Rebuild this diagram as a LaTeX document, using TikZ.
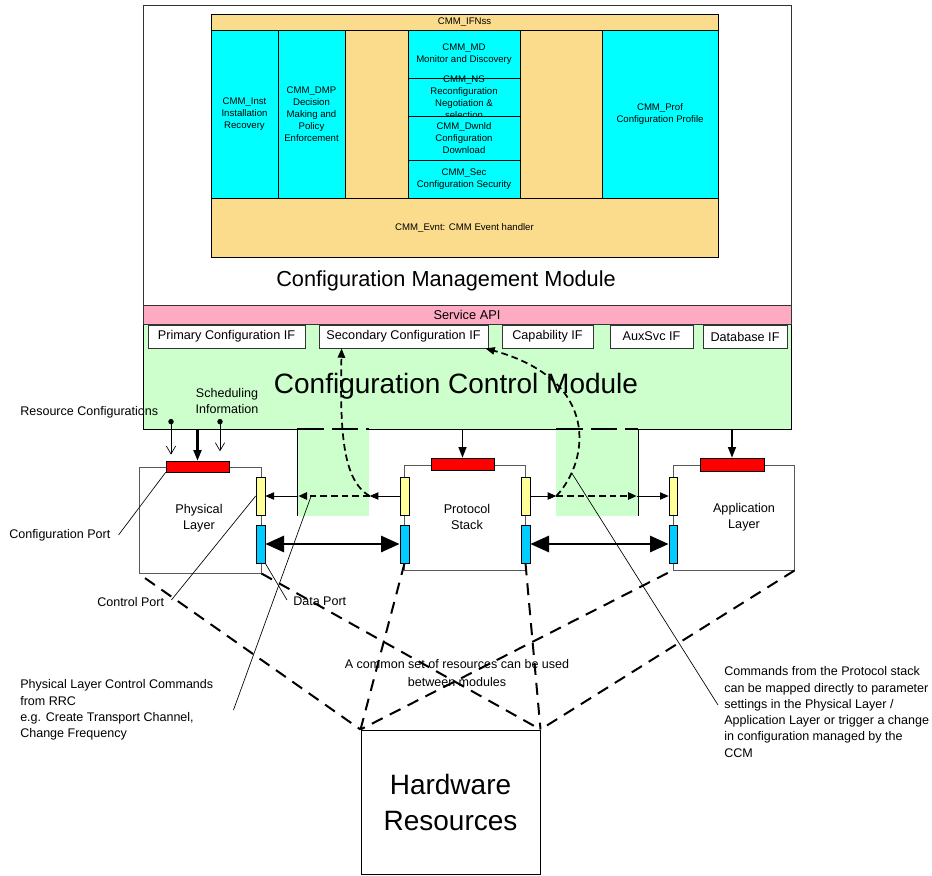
\documentclass[tikz,border=0pt]{standalone}
\usepackage{fontspec}
\setmainfont{Liberation Sans}
\usepackage{tikz}
\usetikzlibrary{fit,calc,positioning,arrows.meta}
\definecolor{cmmtan}{RGB}{250,220,140}
\definecolor{cmmcyan}{RGB}{0,255,255}
\definecolor{apipink}{RGB}{255,170,195}
\definecolor{ccmgreen}{RGB}{204,255,204}
\definecolor{portred}{RGB}{255,0,0}
\definecolor{portyellow}{RGB}{255,255,153}
\definecolor{portblue}{RGB}{0,204,255}
\tikzset{
cmmcol/.style={draw=black, line width=0.6pt, fill=cmmcyan, inner sep=0pt}, % cyan column of the CMM
cmmpad/.style={cmmcol, fill=cmmtan},
cmmtxt/.style={label={[align=center, font=\fontsize{7.2}{9}\selectfont]center:{#1}}},
ifbox/.style={draw=black!80, line width=0.6pt, fill=white, inner sep=0pt},
iftxt/.style={label={[font=\fontsize{9.5}{11}\selectfont]center:{#1}}},
modbox/.style={draw=black!65, line width=0.75pt, inner sep=0pt},
portbox/.style={draw=black, line width=0.5pt, inner sep=0pt},
modtext/.style={align=center, font=\fontsize{9.5}{12}\selectfont},
annot/.style={inner sep=0pt, align=left, font=\fontsize{9.4}{12.2}\selectfont},
leader/.style={line width=0.5pt},
}
\tikzset{
ctlarrow/.style={line width=0.6pt, -{Triangle[length=6.5pt,width=5.5pt]}},
dashctl/.style={line width=1.3pt, dash pattern=on 5pt off 3pt},
datarrow/.style={line width=2.2pt, {Triangle[length=14pt,width=12pt]}-{Triangle[length=14pt,width=12pt]}},
cfgarrow/.style={line width=1.1pt, -{Triangle[length=8pt,width=6pt]}},
inarrow/.style={line width=0.5pt, {Circle[length=4pt]}-{Straight Barb[length=6pt,width=7pt]}},
hwlink/.style={line width=1.5pt, dash pattern=on 9pt off 6pt},
gapline/.style={line width=2pt, dash pattern=on 20pt off 6pt},
}

\begin{document}
\begin{tikzpicture}[x=0.75pt,y=0.75pt,yscale=-1,xscale=1]
\useasboundingbox (0,0) rectangle (932,875);
%Configuration Management Module
\node[draw=black!80, line width=0.6pt, inner sep=0pt, fit={(143,5) (791,305)}] (cmm) {};
\node[cmmpad, fit={(211,14) (718,257)}] (core) {};
\node[cmmpad, fit={(211,14) (718,30)}, cmmtxt={CMM\_IFNss}] (ifnss) {};
\node[cmmcol, fit={(211,30) (278,198)}, cmmtxt={CMM\_Inst\\Installation\\Recovery}] (inst) {};
\node[cmmcol, fit={(278,30) (345,198)}, cmmtxt={CMM\_DMP\\Decision\\Making and\\Policy\\Enforcement}] (dmp) {};
\node[cmmcol, fit={(408,30) (520,78)}, cmmtxt={CMM\_MD\\Monitor and Discovery}] (md) {};
\node[cmmcol, fit={(408,78) (520,116)}, cmmtxt={CMM\_NS\\Reconfiguration\\Negotiation \&\\selection}] (ns) {};
\node[cmmcol, fit={(408,116) (520,160)}, cmmtxt={CMM\_Dwnld\\Configuration\\Download}] (dwnld) {};
\node[cmmcol, fit={(408,160) (520,198)}, cmmtxt={CMM\_Sec\\Configuration Security}] (sec) {};
\node[cmmcol, fit={(602,30) (718,198)}, cmmtxt={CMM\_Prof\\Configuration Profile}] (prof) {};
\node[cmmpad, fit={(211,198) (718,257)}, cmmtxt={CMM\_Evnt: CMM Event handler}] (evnt) {};
\node[font=\fontsize{16.3}{20}\selectfont] (cmmtitle) at (446,281) {Configuration Management Module};
%Configuration Control Module
\fill[ccmgreen] (143,324) -- (791,324) -- (791,429) -- (638,429) -- (638,516) -- (556,516) -- (556,429) -- (369,429) -- (369,516) -- (297,516) -- (297,429) -- (143,429) -- cycle;
\draw[line width=0.6pt] (143,324) -- (143,429) -- (297,429) -- (297,516);
\draw[line width=0.6pt] (369,429) -- (556,429);
\draw[line width=0.6pt] (638,516) -- (638,429) -- (791,429) -- (791,324);
\draw[gapline] (297,429) -- (369,429);
\draw[gapline] (556,429) -- (638,429);
\coordinate (ccmbase) at (143,429);
\node[draw=black!80, line width=0.6pt, fill=apipink, inner sep=0pt, fit={(143,305) (791,324)}, label={[font=\fontsize{9.6}{11}\selectfont]center:Service API}] (api) {};
\node[ifbox, fit={(148,325) (305,348)}, iftxt={Primary Configuration IF}] (primif) {};
\node[ifbox, fit={(319,325) (488,348)}, iftxt={Secondary Configuration IF}] (secif) {};
\node[ifbox, fit={(502,325) (593,348)}, iftxt={Capability IF}] (capif) {};
\node[ifbox, fit={(610,325) (693,348)}, iftxt={AuxSvc IF}] (auxif) {};
\node[ifbox, fit={(703,325) (787,348)}, iftxt={Database IF}] (dbif) {};
\node[font=\fontsize{21}{25}\selectfont] (ccmtitle) at (456,386) {Configuration Control Module};
%Physical Layer
\node[modbox, fit={(139,467) (261,573)}] (phy) {};
\node[portbox, fill=portred, fit={(166,461) (229,472)}] (phycfg) {};
\node[portbox, fill=portyellow, fit={(256,477) (265,515)}] (phyctl) {};
\node[portbox, fill=portblue, fit={(256,525) (265,563)}] (phydat) {};
\node[modtext] (phylbl) at (199,518) {Physical\\Layer};
%Protocol Stack
\node[modbox, fit={(404,465) (525,570)}] (proto) {};
\node[portbox, fill=portred, fit={(431,458) (494,470)}] (protocfg) {};
\node[portbox, fill=portyellow, fit={(400,477) (409,515)}] (protoctlL) {};
\node[portbox, fill=portblue, fit={(400,525) (409,563)}] (protodatL) {};
\node[portbox, fill=portyellow, fit={(521,477) (530,515)}] (protoctlR) {};
\node[portbox, fill=portblue, fit={(521,525) (530,563)}] (protodatR) {};
\node[modtext] (protolbl) at (467,517) {Protocol\\Stack};
%Application Layer
\node[modbox, fit={(673,465) (794,570)}] (app) {};
\node[portbox, fill=portred, fit={(700,458) (764,471)}] (appcfg) {};
\node[portbox, fill=portyellow, fit={(669,477) (677,515)}] (appctl) {};
\node[portbox, fill=portblue, fit={(669,525) (677,563)}] (appdat) {};
\node[modtext] (applbl) at (744,517) {Application\\Layer};
%Hardware
\node[draw=black, line width=0.75pt, inner sep=0pt, fit={(361,730) (540,874)}, label={[align=center, font=\fontsize{21}{27}\selectfont]center:{Hardware\\Resources}}] (hw) {};
%configuration arrows
\draw[cfgarrow, line width=1.6pt] (phycfg.north |- ccmbase) -- (phycfg.north);
\draw[cfgarrow] (protocfg.north |- ccmbase) -- (protocfg.north);
\draw[cfgarrow] (appcfg.north |- ccmbase) -- (appcfg.north);
\coordinate (rescfg) at (171,419);
\coordinate (schedinfo) at (220,419);
\draw[inarrow, shorten >=4.5pt] (rescfg) -- (rescfg |- phycfg.north);
\draw[inarrow, shorten >=7pt] (schedinfo) -- (schedinfo |- phycfg.north);
%control paths
\coordinate (jL) at ($(protoctlL.west)+(-30,0)$);
\coordinate (jL2) at ($(phyctl.east)+(33,0)$);
\coordinate (jR) at ($(protoctlR.east)+(26,0)$);
\coordinate (jR2) at ($(appctl.west)+(-32,0)$);
\draw[ctlarrow] (protoctlL.west) -- (jL);
\draw[ctlarrow, dashctl] (jL) -- (jL2) coordinate[pos=0.82] (ctltap);
\draw[ctlarrow] (jL2) -- (phyctl.east);
\draw[ctlarrow] (protoctlR.east) -- (jR);
\draw[ctlarrow, dashctl] (jR) -- (jR2);
\draw[ctlarrow] (jR2) -- (appctl.west);
\draw[dashctl, -{Triangle[length=7pt,width=5.5pt]}] (jL) .. controls (342,480) and (340,430) .. ($(secif.south west)+(23,0)$);
\draw[dashctl, -{Triangle[length=7pt,width=5.5pt]}] (jR) .. controls (590,460) and (600,380) .. ($(secif.south east)+(-3,0)$) coordinate[pos=0.18] (cmdtap);
%data paths
\draw[datarrow] (phydat.east) -- (protodatL.west);
\draw[datarrow] (protodatR.east) -- (appdat.west);
%shared resources
\draw[hwlink, shorten <=6pt] (phy.south west) -- (hw.north west);
\draw[hwlink] (phy.south east) -- (hw.north east);
\draw[hwlink] (protodatL.south) -- (hw.north west);
\draw[hwlink] (protodatR.south) -- (hw.north east);
\draw[hwlink, shorten <=4pt] (app.south west) -- (hw.north west);
\draw[hwlink] (app.south east) -- (hw.north east);
%annotations
\node[annot, anchor=west] (reslbl) at (20,412) {Resource Configurations};
\node[annot, align=center] (schedlbl) at (227,401) {Scheduling\\Information};
\node[annot, anchor=west] (cfgportlbl) at (9,535) {Configuration Port};
\node[annot, anchor=west] (ctlportlbl) at (97,602) {Control Port};
\node[annot, anchor=west] (datportlbl) at (293,601) {Data Port};
\node[annot, align=center, font=\fontsize{9.4}{12.8}\selectfont] (sharedlbl) at (457,673) {A common set of resources can be used\\between modules};
\node[annot, anchor=west] (phycmdlbl) at (20,710) {Physical Layer Control Commands\\from RRC\\e.g. Create Transport Channel,\\Change Frequency};
\node[annot, anchor=west] (protocmdlbl) at (724,712) {Commands from the Protocol stack\\can be mapped directly to parameter\\settings in the Physical Layer /\\Application Layer or trigger a change\\in configuration managed by the\\CCM};
\draw[leader] ($(cfgportlbl.east)+(8,0)$) -- (phycfg.south west);
\draw[leader] ($(ctlportlbl.east)+(7,-2)$) -- (phyctl.west);
\draw[leader] ($(datportlbl.west)+(-6,-1)$) -- (phydat.south east);
\draw[leader] ($(phycmdlbl.east)+(20,0)$) -- (ctltap);
\draw[leader] ($(protocmdlbl.west)+(-6,-7)$) -- (cmdtap);
\end{tikzpicture}
\end{document}
